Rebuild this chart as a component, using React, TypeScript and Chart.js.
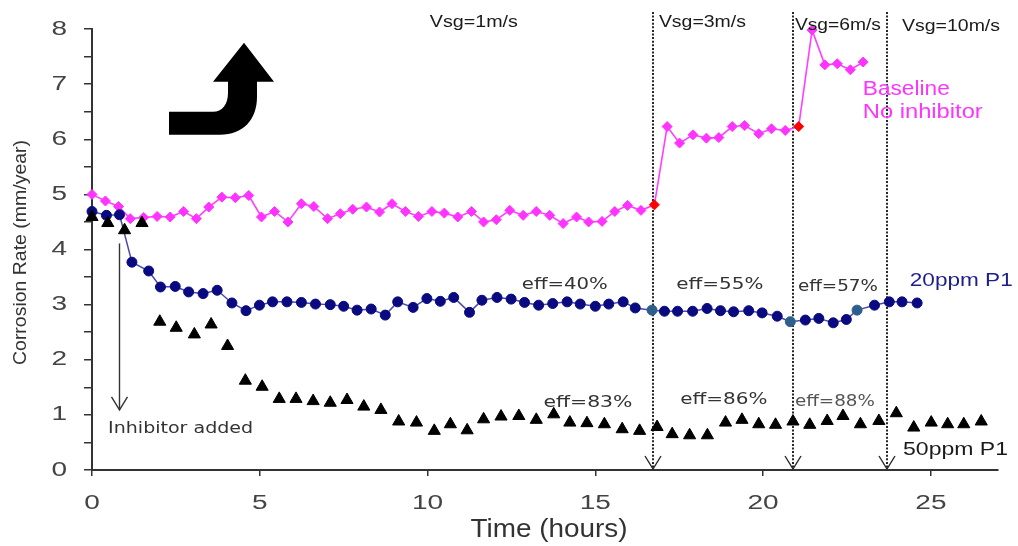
import React, { useEffect, useRef } from 'react';
import { Chart, registerables } from 'chart.js';

Chart.register(...registerables);

// ---------- data ----------
const baselineTime = [
  0, 0.4, 0.79, 1.14, 1.54, 1.94, 2.33, 2.73, 3.11, 3.48,
  3.87, 4.27, 4.67, 5.05, 5.44, 5.84, 6.24, 6.61, 7.02, 7.4,
  7.77, 8.18, 8.57, 8.94, 9.34, 9.73, 10.13, 10.5, 10.9, 11.31,
  11.67, 12.05, 12.45, 12.85, 13.24, 13.64, 14.04, 14.44, 14.8, 15.2,
  15.58, 15.96, 16.36, 16.76, 17.14, 17.51, 17.91, 18.31, 18.68, 19.08,
  19.45, 19.87, 20.25, 20.66, 21.06, 21.46, 21.84, 22.21, 22.6, 22.98,
];
const baselineRate = [
  5.0, 4.88, 4.78, 4.56, 4.58, 4.6, 4.59, 4.69, 4.56, 4.77,
  4.95, 4.94, 4.98, 4.59, 4.69, 4.5, 4.83, 4.78, 4.56, 4.65,
  4.73, 4.77, 4.68, 4.83, 4.69, 4.6, 4.69, 4.66, 4.59, 4.69,
  4.5, 4.54, 4.71, 4.62, 4.69, 4.62, 4.47, 4.59, 4.5, 4.51,
  4.69, 4.8, 4.71, 4.81, 6.23, 5.93, 6.08, 6.02, 6.03, 6.23,
  6.25, 6.1, 6.19, 6.16, 6.23, 7.98, 7.35, 7.37, 7.26, 7.4,
];
const baselineRedPoints = [43, 54];

const ppm20Time = [
  0, 0.43, 0.82, 1.19, 1.69, 2.04, 2.48, 2.88, 3.31, 3.73,
  4.17, 4.59, 4.99, 5.38, 5.81, 6.24, 6.66, 7.1, 7.5, 7.9,
  8.32, 8.74, 9.11, 9.57, 9.98, 10.38, 10.78, 11.25, 11.62, 12.07,
  12.49, 12.89, 13.31, 13.73, 14.16, 14.55, 15.0, 15.4, 15.83, 16.19,
  16.69, 17.06, 17.45, 17.9, 18.33, 18.73, 19.12, 19.57, 19.97, 20.42,
  20.81, 21.26, 21.66, 22.09, 22.48, 22.8, 23.32, 23.76, 24.14, 24.59,
];
const ppm20Rate = [
  4.69, 4.62, 4.63, 3.77, 3.61, 3.32, 3.33, 3.23, 3.2, 3.26,
  3.03, 2.89, 2.99, 3.05, 3.05, 3.04, 3.01, 3.0, 2.97, 2.9,
  2.92, 2.81, 3.05, 2.95, 3.11, 3.06, 3.13, 2.86, 3.08, 3.13,
  3.1, 3.04, 2.99, 3.02, 3.05, 3.01, 2.97, 3.01, 3.05, 2.94,
  2.9, 2.88, 2.88, 2.88, 2.93, 2.89, 2.87, 2.89, 2.85, 2.79,
  2.69, 2.72, 2.75, 2.67, 2.73, 2.9, 2.99, 3.05, 3.05, 3.03,
];
const ppm20TealPoints = [40, 50, 55];

const ppm50Time = [
  0, 0.47, 0.97, 1.49, 2.02, 2.51, 3.05, 3.55, 4.04, 4.57,
  5.07, 5.58, 6.08, 6.59, 7.1, 7.6, 8.1, 8.61, 9.14, 9.67,
  10.2, 10.68, 11.18, 11.67, 12.19, 12.72, 13.24, 13.76, 14.24, 14.75,
  15.27, 15.8, 16.32, 16.84, 17.29, 17.81, 18.34, 18.88, 19.37, 19.87,
  20.37, 20.89, 21.39, 21.91, 22.38, 22.9, 23.45, 23.97, 24.49, 25.01,
  25.5, 25.98, 26.5,
];
const ppm50Rate = [
  4.59, 4.48, 4.35, 4.48, 2.69, 2.58, 2.46, 2.64, 2.25, 1.62,
  1.51, 1.29, 1.29, 1.25, 1.22, 1.27, 1.15, 1.09, 0.88, 0.86,
  0.71, 0.83, 0.72, 0.92, 0.97, 0.98, 0.91, 1.01, 0.86, 0.85,
  0.83, 0.74, 0.71, 0.78, 0.65, 0.63, 0.63, 0.86, 0.91, 0.83,
  0.82, 0.88, 0.82, 0.89, 0.98, 0.83, 0.89, 1.03, 0.77, 0.86,
  0.83, 0.83, 0.88,
];

const velocityChangeTimes = [16.72, 20.9, 23.69];
const inhibitorAddedTime = 0.79;

const xTickValues = [0, 5, 10, 15, 20, 25];
const xTickLabels = ['0', '5', '10', '15', '20', '25'];
const yTickValues = [0, 1, 2, 3, 4, 5, 6, 7, 8];
const yTickLabels = ['0', '1', '2', '3', '4', '5', '6', '7', '8'];

const xTitle = 'Time (hours)';
const yTitle = 'Corrosion Rate (mm/year)';

const velocityLabels = ['Vsg=1m/s', 'Vsg=3m/s', 'Vsg=6m/s', 'Vsg=10m/s'];
const effLabels20 = ['eff=40%', 'eff=55%', 'eff=57%'];
const effLabels50 = ['eff=83%', 'eff=86%', 'eff=88%'];

// ---------- styling / placement of annotations ----------
const ARIAL = '"Liberation Sans", Arial, sans-serif';
const DEJAVU = '"DejaVu Sans", Verdana, sans-serif';

type Note = {
  text: string; t: number; v: number; align: 'left' | 'center';
  font: string; color: string; width: number;
};

const notes: Note[] = [
  { text: velocityLabels[0], t: 11.38, v: 8.11, align: 'center', font: `16px ${ARIAL}`, color: '#1a1a1a', width: 88 },
  { text: velocityLabels[1], t: 18.19, v: 8.11, align: 'center', font: `16px ${ARIAL}`, color: '#1a1a1a', width: 87 },
  { text: velocityLabels[2], t: 22.23, v: 8.07, align: 'center', font: `16px ${ARIAL}`, color: '#1a1a1a', width: 86 },
  { text: velocityLabels[3], t: 25.6, v: 8.04, align: 'center', font: `16px ${ARIAL}`, color: '#1a1a1a', width: 98 },
  { text: 'Baseline', t: 22.97, v: 6.91, align: 'left', font: `20px ${ARIAL}`, color: '#ff33ff', width: 87 },
  { text: 'No inhibitor', t: 22.97, v: 6.49, align: 'left', font: `20px ${ARIAL}`, color: '#ff33ff', width: 120 },
  { text: '20ppm P1', t: 24.37, v: 3.43, align: 'left', font: `18px ${ARIAL}`, color: '#1e1e8a', width: 103 },
  { text: '50ppm P1', t: 24.17, v: 0.36, align: 'left', font: `18px ${ARIAL}`, color: '#1a1a1a', width: 105 },
  { text: effLabels20[0], t: 14.09, v: 3.36, align: 'center', font: `16px ${DEJAVU}`, color: '#333333', width: 86 },
  { text: effLabels20[1], t: 18.71, v: 3.36, align: 'center', font: `16px ${DEJAVU}`, color: '#333333', width: 87 },
  { text: effLabels20[2], t: 22.23, v: 3.32, align: 'center', font: `15px ${DEJAVU}`, color: '#333333', width: 80 },
  { text: effLabels50[0], t: 14.78, v: 1.22, align: 'center', font: `16px ${DEJAVU}`, color: '#333333', width: 89 },
  { text: effLabels50[1], t: 18.83, v: 1.27, align: 'center', font: `16px ${DEJAVU}`, color: '#333333', width: 87 },
  { text: effLabels50[2], t: 22.14, v: 1.23, align: 'center', font: `15px ${DEJAVU}`, color: '#555555', width: 80 },
  { text: 'Inhibitor added', t: 0.48, v: 0.74, align: 'left', font: `16px ${DEJAVU}`, color: '#333333', width: 145 },
];

function drawText(
  ctx: CanvasRenderingContext2D, text: string, x: number, y: number,
  o: { font: string; color: string; align?: string; width?: number; stretch?: number; rotate?: number },
) {
  ctx.save();
  ctx.font = o.font;
  ctx.fillStyle = o.color;
  ctx.textBaseline = 'middle';
  ctx.textAlign = 'left';
  const raw = ctx.measureText(text).width;
  const s = o.width ? o.width / raw : (o.stretch ?? 1);
  const w = raw * s;
  ctx.translate(x, y);
  if (o.rotate) ctx.rotate(o.rotate);
  const off = o.align === 'center' ? -w / 2 : o.align === 'right' ? -w : 0;
  ctx.translate(off, 0);
  ctx.scale(s, 1);
  ctx.fillText(text, 0, 0);
  ctx.restore();
}

const annotationPlugin = {
  id: 'annotationsCustom',
  beforeDatasetsDraw(chart: any) {
    const { ctx, chartArea } = chart;
    const xs = chart.scales.x;
    const ys = chart.scales.y;
    ctx.save();
    // velocity change dashed lines
    ctx.strokeStyle = '#262626';
    velocityChangeTimes.forEach((t) => {
      const x = Math.round(xs.getPixelForValue(t));
      const top = ys.getPixelForValue(8.31);
      const bot = chartArea.bottom - 1;
      ctx.lineWidth = 2;
      ctx.setLineDash([2, 1.6]);
      ctx.beginPath();
      ctx.moveTo(x, top);
      ctx.lineTo(x, bot);
      ctx.stroke();
      ctx.setLineDash([]);
      ctx.lineWidth = 1.4;
      ctx.beginPath();
      ctx.moveTo(x - 8, bot - 13);
      ctx.lineTo(x, bot);
      ctx.lineTo(x + 8, bot - 13);
      ctx.stroke();
    });
    // inhibitor added arrow
    const xi = Math.round(xs.getPixelForValue(inhibitorAddedTime)) + 0.5;
    const y1 = ys.getPixelForValue(4.11);
    const y2 = ys.getPixelForValue(1.09);
    ctx.strokeStyle = '#333';
    ctx.lineWidth = 1.4;
    ctx.beginPath();
    ctx.moveTo(xi, y1);
    ctx.lineTo(xi, y2);
    ctx.stroke();
    ctx.beginPath();
    ctx.moveTo(xi - 8, y2 - 13);
    ctx.lineTo(xi, y2);
    ctx.lineTo(xi + 8, y2 - 13);
    ctx.stroke();
    ctx.restore();
  },
  afterDraw(chart: any) {
    const { ctx, chartArea } = chart;
    const xs = chart.scales.x;
    const ys = chart.scales.y;
    // tick labels
    yTickValues.forEach((v, i) => {
      drawText(ctx, yTickLabels[i], chartArea.left - 25, ys.getPixelForValue(v), {
        font: `20px ${ARIAL}`, color: '#444', align: 'right', stretch: 1.4,
      });
    });
    xTickValues.forEach((v, i) => {
      drawText(ctx, xTickLabels[i], xs.getPixelForValue(v), chartArea.bottom + 33, {
        font: `20px ${ARIAL}`, color: '#444', align: 'center', stretch: 1.4,
      });
    });
    // axis titles
    drawText(ctx, xTitle, (chartArea.left + chartArea.right) / 2 + 4, chartArea.bottom + 60, {
      font: `26px ${ARIAL}`, color: '#333', align: 'center', width: 157,
    });
    drawText(ctx, yTitle, 21, (chartArea.top + chartArea.bottom) / 2 + 3, {
      font: `18px ${ARIAL}`, color: '#333', align: 'center', width: 225, rotate: -Math.PI / 2,
    });
    // notes
    notes.forEach((n) => {
      drawText(ctx, n.text, xs.getPixelForValue(n.t), ys.getPixelForValue(n.v), {
        font: n.font, color: n.color, align: n.align, width: n.width,
      });
    });
    // big curved arrow
    const tx = xs.getPixelForValue(4.53);
    const ty = ys.getPixelForValue(7.75);
    const P = (dx: number, dy: number): [number, number] => [tx + dx, ty + dy];
    ctx.save();
    ctx.fillStyle = '#000';
    ctx.beginPath();
    ctx.moveTo(...P(-75, 69));
    ctx.lineTo(...P(-31, 69));
    ctx.bezierCurveTo(...P(-22, 69), ...P(-16, 62), ...P(-16, 50));
    ctx.lineTo(...P(-16, 39));
    ctx.lineTo(...P(-31, 39));
    ctx.lineTo(...P(0, 0));
    ctx.lineTo(...P(30, 39));
    ctx.lineTo(...P(13, 39));
    ctx.lineTo(...P(13, 54));
    ctx.bezierCurveTo(...P(13, 77), ...P(-1, 92), ...P(-24, 92));
    ctx.lineTo(...P(-75, 92));
    ctx.closePath();
    ctx.fill();
    ctx.restore();
  },
};

export default function App() {
  const canvasRef = useRef<HTMLCanvasElement | null>(null);

  useEffect(() => {
    if (!canvasRef.current) return;
    const chart = new Chart(canvasRef.current, {
      type: 'scatter',
      data: {
        datasets: [
          {
            label: '50ppm P1',
            data: ppm50Time.map((t, i) => ({ x: t, y: ppm50Rate[i] })),
            showLine: false,
            pointStyle: 'triangle',
            pointRadius: 7,
            pointBackgroundColor: '#000',
            pointBorderColor: '#000',
            pointBorderWidth: 1,
            order: 0,
            clip: false,
          },
          {
            label: '20ppm P1',
            data: ppm20Time.map((t, i) => ({ x: t, y: ppm20Rate[i] })),
            showLine: true,
            borderColor: '#4a4aa8',
            borderWidth: 1.5,
            tension: 0,
            pointStyle: 'circle',
            pointRadius: 5,
            pointBackgroundColor: ppm20Time.map((_, i) => (ppm20TealPoints.includes(i) ? '#2e5e8c' : '#0a0a80')),
            pointBorderColor: ppm20Time.map((_, i) => (ppm20TealPoints.includes(i) ? '#2e5e8c' : '#0a0a80')),
            pointBorderWidth: 1,
            order: 1,
            clip: false,
          },
          {
            label: 'Baseline No inhibitor',
            data: baselineTime.map((t, i) => ({ x: t, y: baselineRate[i] })),
            showLine: true,
            borderColor: '#ff40ff',
            borderWidth: 1.6,
            tension: 0,
            pointStyle: 'rectRot',
            pointRadius: 5,
            pointBackgroundColor: baselineTime.map((_, i) => (baselineRedPoints.includes(i) ? '#ff0000' : '#ff33ff')),
            pointBorderColor: baselineTime.map((_, i) => (baselineRedPoints.includes(i) ? '#ff0000' : '#ff33ff')),
            pointBorderWidth: 1,
            order: 2,
            clip: false,
          },
        ] as any,
      },
      options: {
        animation: false,
        responsive: false,
        events: [],
        layout: { padding: { top: 29, right: 20, left: 0, bottom: 0 } },
        plugins: { legend: { display: false }, tooltip: { enabled: false } },
        scales: {
          x: {
            type: 'linear',
            min: 0,
            max: 27,
            ticks: { stepSize: 5, display: false, includeBounds: false },
            grid: { drawOnChartArea: false, drawTicks: true, tickLength: 6, color: '#333', lineWidth: 1.5 },
            border: { display: true, color: '#333', width: 2 },
            afterFit: (s: any) => { s.height = 76; },
          },
          y: {
            type: 'linear',
            min: 0,
            max: 8,
            ticks: { stepSize: 0.5, display: false },
            grid: { drawOnChartArea: false, drawTicks: true, tickLength: 8, color: '#333', lineWidth: 1.5 },
            border: { display: true, color: '#333', width: 2 },
            afterFit: (s: any) => { s.width = 92; },
          },
        },
      } as any,
      plugins: [annotationPlugin],
    });
    return () => chart.destroy();
  }, []);

  return (
    <div style={{ position: 'fixed', left: 0, top: 0, width: 1018, height: 546, background: '#fff' }}>
      <canvas ref={canvasRef} width={1018} height={546} />
    </div>
  );
}
